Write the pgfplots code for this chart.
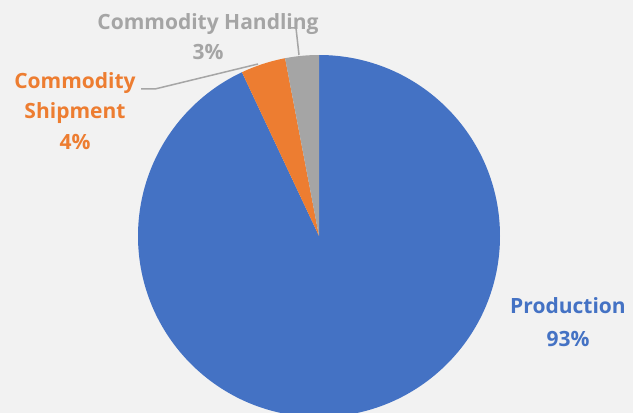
\documentclass[border=0pt]{standalone}
\usepackage{pgfplots}
\pgfplotsset{compat=1.18}
\usepackage{fontspec}
\setmainfont{Open Sans}

\definecolor{bg}{HTML}{F2F2F2}
\definecolor{cblue}{HTML}{4472C4}
\definecolor{corange}{HTML}{ED7D31}
\definecolor{cgrey}{HTML}{A5A5A5}
\definecolor{leader}{HTML}{A6A6A6}

% shares in percent, clockwise from 12 o'clock
\def\production{93}
\def\shipment{4}
\def\handling{3}

\begin{document}
\begin{tikzpicture}[lbl/.style={anchor=base, font=\fontsize{10.5}{12}\selectfont\bfseries}]
\begin{axis}[
    x=0.5pt, y=0.5pt,
    xmin=0, xmax=633, ymin=0, ymax=413,
    hide axis,
    clip mode=global,
]
\fill[bg] (axis cs:0,0) rectangle (axis cs:633,413);

\pgfmathsetmacro{\aA}{90}
\pgfmathsetmacro{\aB}{\aA-3.6*\production}
\pgfmathsetmacro{\aC}{\aB-3.6*\shipment}
\pgfmathsetmacro{\aD}{\aC-3.6*\handling}

% pie, centre (319,177), radius 181 units
\fill[cblue] (axis cs:319,177) -- ++(\aA:90.5pt) arc[start angle=\aA, end angle=\aB, radius=90.5pt] -- cycle;
\fill[corange] (axis cs:319,177) -- ++(\aB:90.5pt) arc[start angle=\aB, end angle=\aC, radius=90.5pt] -- cycle;
\fill[cgrey] (axis cs:319,177) -- ++(\aC:90.5pt) arc[start angle=\aC, end angle=\aD, radius=90.5pt] -- cycle;

% leader lines
\draw[leader, line width=0.75pt] (axis cs:289,385) -- (axis cs:296,385) -- (axis cs:299,358);
\draw[leader, line width=0.75pt] (axis cs:141,324) -- (axis cs:155,324) -- (axis cs:258,349);

% labels
\node[lbl, cgrey] at (axis cs:208,383) {Commodity Handling};
\node[lbl, cgrey] at (axis cs:208,353) {3\%};
\node[lbl, corange] at (axis cs:75,324) {Commodity};
\node[lbl, corange] at (axis cs:75,294) {Shipment};
\node[lbl, corange] at (axis cs:75,263) {4\%};
\node[lbl, cblue] at (axis cs:568,99) {Production};
\node[lbl, cblue] at (axis cs:568,66) {93\%};
\end{axis}
\pgfresetboundingbox
\useasboundingbox (current axis.south west) rectangle (current axis.north east);
\end{tikzpicture}
\end{document}
